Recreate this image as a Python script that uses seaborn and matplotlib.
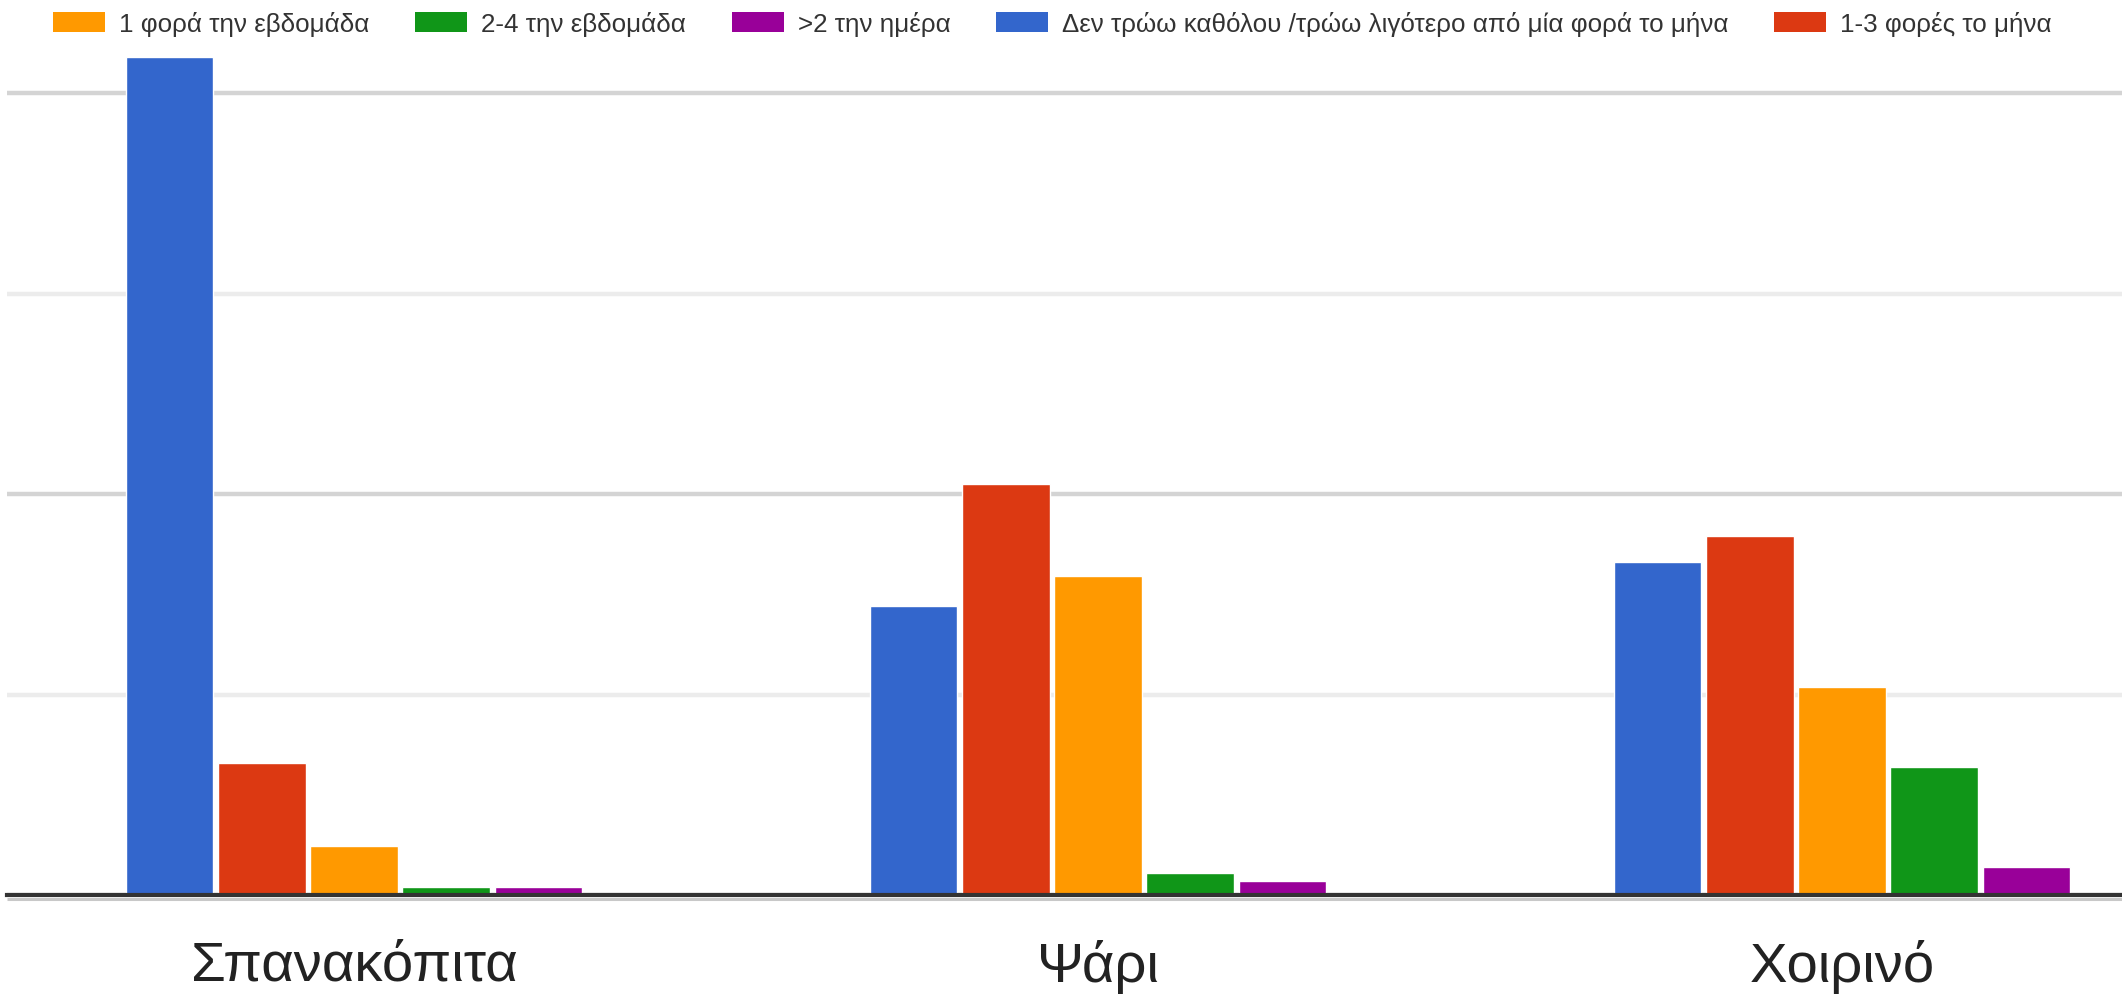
import matplotlib
matplotlib.use("Agg")
import matplotlib.pyplot as plt
import pandas as pd
import seaborn as sns
from matplotlib.patches import Patch
from matplotlib.ticker import MultipleLocator
from matplotlib.transforms import offset_copy

# Food items (x categories)
foods = ["Σπανακόπιτα", "Ψάρι", "Χοιρινό"]

# Answer categories
lab_never = "Δεν τρώω καθόλου /τρώω λιγότερο από μία φορά το μήνα"
lab_month = "1-3 φορές το μήνα"
lab_week = "1 φορά την εβδομάδα"
lab_2_4 = "2-4 την εβδομάδα"
lab_day = ">2 την ημέρα"

# Responses per food, one list per answer
never_vals = [41.8, 14.4, 16.6]
month_vals = [6.6, 20.5, 17.9]
week_vals = [2.45, 15.9, 10.4]
two_four_vals = [0.4, 1.1, 6.4]
day_vals = [0.4, 0.7, 1.4]

bar_order = [lab_never, lab_month, lab_week, lab_2_4, lab_day]
legend_order = [lab_week, lab_2_4, lab_day, lab_never, lab_month]
palette = {
    lab_never: "#3366CC",
    lab_month: "#DC3912",
    lab_week: "#FF9900",
    lab_2_4: "#109618",
    lab_day: "#990099",
}

series = {
    lab_never: never_vals,
    lab_month: month_vals,
    lab_week: week_vals,
    lab_2_4: two_four_vals,
    lab_day: day_vals,
}
rows = []
for lab, vals in series.items():
    for food, v in zip(foods, vals):
        rows.append({"food": food, "freq": lab, "value": v})
df = pd.DataFrame(rows)

sns.set_theme(style="white")
plt.rcParams["font.family"] = ["Liberation Sans", "DejaVu Sans"]

W, H = 2122, 995
fig = plt.figure(figsize=(W / 100, H / 100), dpi=100, facecolor="white")
ax = fig.add_axes([7 / W, 99 / H, (W - 7) / W, 846 / H])

sns.barplot(
    data=df, x="food", y="value", hue="freq",
    order=foods, hue_order=bar_order, palette=palette,
    width=0.62, gap=0.05, saturation=1, errorbar=None,
    legend=False, ax=ax,
)

ax.set_xlim(-0.4664, 2.3763)
ax.set_ylim(0, 42.2)
ax.set_xlabel("")
ax.set_ylabel("")

# Horizontal gridlines: stronger every 20, fainter in between
ax.yaxis.set_major_locator(MultipleLocator(20))
ax.yaxis.set_minor_locator(MultipleLocator(10))
ax.grid(axis="y", which="major", color="#d4d4d4", lw=3.2)
ax.grid(axis="y", which="minor", color="#ececec", lw=3.2)
ax.grid(axis="x", visible=False)
ax.set_axisbelow(True)
ax.tick_params(axis="y", which="both", left=False, labelleft=False)
ax.tick_params(axis="x", length=0, pad=32, labelsize=40.5, labelcolor="#222222")

for side in ("top", "left", "right"):
    ax.spines[side].set_visible(False)
ax.spines["bottom"].set_color("#333333")
ax.spines["bottom"].set_linewidth(3)

# thin light shadow under the baseline
ax.plot([0, 1], [0, 0], transform=offset_copy(ax.transAxes, fig=fig, y=-3.5, units="dots"),
        color="#c8c8c8", lw=2.2, clip_on=False, solid_capstyle="butt")

handles = [Patch(facecolor=palette[l], edgecolor="none") for l in legend_order]
fig.legend(
    handles, legend_order, loc="upper left",
    bbox_to_anchor=(53 / W, 1 - 12 / H), ncol=5, frameon=False,
    fontsize=18.7, labelcolor="#333333",
    handlelength=2.0, handleheight=0.85, handletextpad=0.55,
    columnspacing=1.75, borderpad=0, borderaxespad=0,
)

fig.savefig("out.png", dpi=100, facecolor="white")
